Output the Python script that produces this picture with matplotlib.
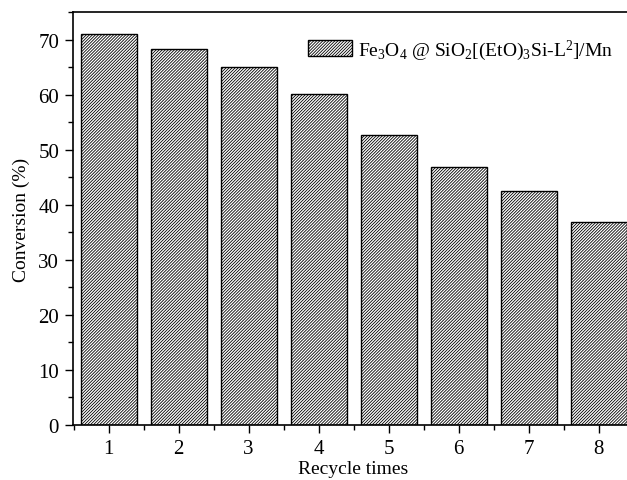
import matplotlib
matplotlib.use("Agg")
import matplotlib.pyplot as plt
from matplotlib.ticker import MultipleLocator

# data
recycle = [1, 2, 3, 4, 5, 6, 7, 8]
conversion = [71.1, 68.4, 65.1, 60.2, 52.7, 46.8, 42.5, 36.8]
legend_label = r"Fe$_3$O$_4$ @ SiO$_2$[(EtO)$_3$Si-L$^2$]/Mn"

plt.rcParams["font.family"] = ["Liberation Serif", "DejaVu Serif"]
plt.rcParams["mathtext.fontset"] = "custom"
plt.rcParams["mathtext.rm"] = "Liberation Serif"
plt.rcParams["mathtext.it"] = "Liberation Serif:italic"
plt.rcParams["hatch.linewidth"] = 0.6

fig = plt.figure(figsize=(6.27, 4.81), dpi=100)
ax = fig.add_axes([0.1164, 0.115, 0.894, 0.8573])

ax.bar(recycle, conversion, width=0.8, color="white", edgecolor="black",
       linewidth=1.0, hatch="///////////", label=legend_label)

ax.set_xlim(0.49, 8.5)
ax.set_ylim(0, 75)
ax.set_xticks(recycle)
ax.xaxis.set_minor_locator(MultipleLocator(0.5))
ax.yaxis.set_major_locator(MultipleLocator(10))
ax.yaxis.set_minor_locator(MultipleLocator(5))
ax.tick_params(which="major", direction="out", length=6, width=1.0,
               labelsize=15, pad=4)
ax.tick_params(which="minor", direction="out", length=3.5, width=1.0)
for s in ax.spines.values():
    s.set_linewidth(1.2)

ax.set_xlabel("Recycle times", fontsize=14, labelpad=2)
ax.set_ylabel("Conversion (%)", fontsize=14, labelpad=6)

ax.legend(loc="upper left", bbox_to_anchor=(0.3875, 0.982), frameon=False,
          fontsize=14, handlelength=2.27, handleheight=0.88,
          handletextpad=0.3)

fig.savefig("out.png", dpi=100)
